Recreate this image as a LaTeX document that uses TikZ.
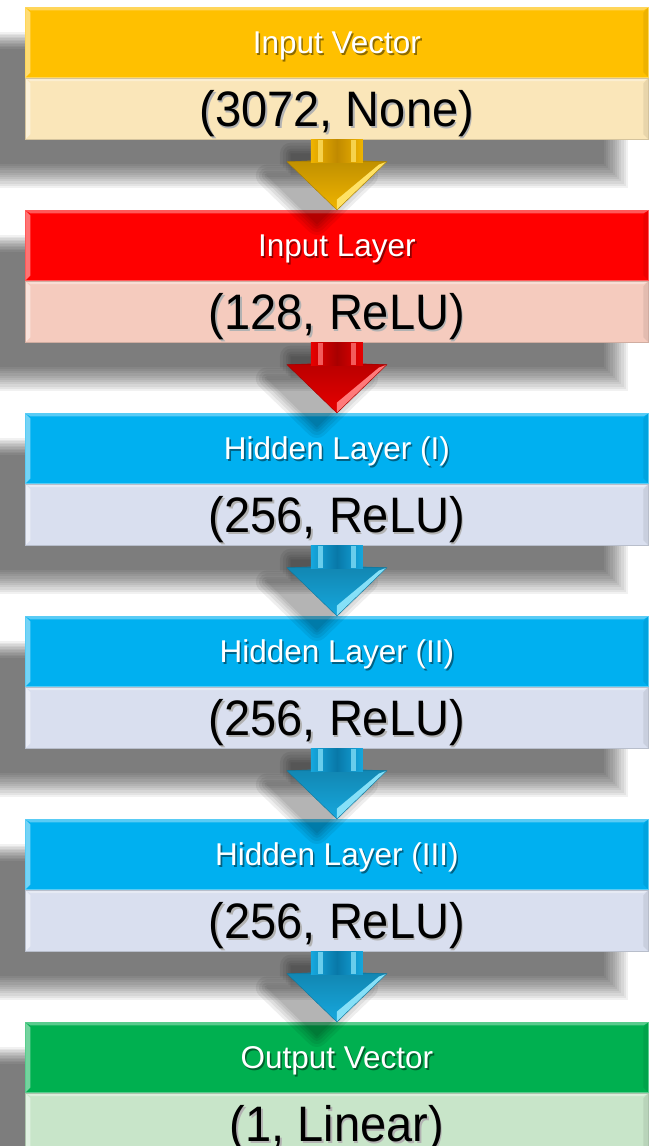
\documentclass[tikz,border=0pt]{standalone}
\usepackage{fontspec}
\usepackage{graphicx}
\setmainfont{Liberation Sans}
\usetikzlibrary{calc}
\definecolor{hOr}{HTML}{FFC000}\definecolor{bOr}{HTML}{FAE6B9}
\definecolor{hRd}{HTML}{FF0000}\definecolor{bRd}{HTML}{F5CBBE}
\definecolor{hBl}{HTML}{00B0F0}\definecolor{bBl}{HTML}{D9DFEF}
\definecolor{hGr}{HTML}{00B050}\definecolor{bGr}{HTML}{C8E5C9}
\definecolor{aOrB}{HTML}{F0B400}\definecolor{aOrL}{HTML}{FFE266}\definecolor{aOrD}{HTML}{C08A00}
\definecolor{aRdB}{HTML}{E80000}\definecolor{aRdL}{HTML}{FF7A7A}\definecolor{aRdD}{HTML}{A80000}
\definecolor{aBlB}{HTML}{16A8DE}\definecolor{aBlL}{HTML}{86E0F8}\definecolor{aBlD}{HTML}{0878A8}
\newcommand\hdrfont{\fontsize{31.5}{36}\selectfont}
\newcommand\bodfont{\fontsize{47}{52}\selectfont}
\newcommand\shtxt[2]{\makebox[0pt][l]{\hspace{1.6pt}\raisebox{-1.6pt}{\color{#1}#2}}#2}
\newcommand\tallbod[2]{\scalebox{1}[1.06]{\shtxt{#1}{#2}}}
\tikzset{
  bevel/.style={path picture={
    \fill[white,opacity=0.45] (path picture bounding box.north west) -- ++(5,5)
      -- ([shift={(5,-5)}]path picture bounding box.south west) -- (path picture bounding box.south west) -- cycle;
    \fill[black,opacity=0.07] (path picture bounding box.north east) -- ++(-5,5)
      -- ([shift={(-5,-5)}]path picture bounding box.south east) -- (path picture bounding box.south east) -- cycle;
    \fill[white,opacity=0.35] (path picture bounding box.north west) -- (path picture bounding box.north east)
      -- ++(-5,3) -- ([shift={(5,3)}]path picture bounding box.north west) -- cycle;
  }},
  hdr/.style={rectangle, minimum width=623pt, minimum height=70pt, inner sep=0pt,
    anchor=north west, text=white, font=\hdrfont, line width=0.8pt, bevel,
    text height=22.5pt, text depth=0pt},
  bod/.style={rectangle, minimum width=623pt, minimum height=61pt, inner sep=0pt,
    anchor=north west, text=black, font=\bodfont, line width=0.8pt, bevel,
    text height=35.7pt, text depth=0pt},
}
% #1 name, #2 top, #3 header colour, #4 body colour, #5 header text, #6 body text
\newcommand\lblock[6]{%
  \foreach \i in {0,...,11}
    \fill[black,opacity=0.056] (-40+2.2*\i, #2+25+1.5*\i) rectangle (628-2.2*\i, #2+181-2.2*\i);
  \node[hdr, fill=#3, draw=#3!65!white] (#1h) at (25,#2) {\shtxt{#3!55!black}{#5}};
  \node[bod, fill=#4, draw=#4!85!black] (#1b) at (#1h.south west) {\tallbod{black!30}{#6}};
}
% arrow shadow: #1 from body node, #2 to header node
\newcommand\ashadow[2]{%
  \coordinate (#1s) at ($(#1.south)+(-20,14)$);
  \coordinate (#1t) at ($(#2.north)+(-20,14)$);
  \foreach \w in {22,16,10,5,0.5}{
    \begin{scope}[transparency group, opacity=0.065]
      \filldraw[black, line width=\w pt, line join=round]
        ($(#1s)+(-26,0)$) -- ($(#1s)+(-26,22)$) -- ($(#1s)+(-50,22)$) -- (#1t)
        -- ($(#1s)+(50,22)$) -- ($(#1s)+(26,22)$) -- ($(#1s)+(26,0)$) -- cycle;
    \end{scope}}
}
% block arrow: #1 from, #2 to, #3 base, #4 light, #5 dark
\newcommand\barrow[5]{%
  \shade[top color=#3!80!black, bottom color=#3]
    ($(#1.south)+(-26,21)$) -- ($(#1.south)+(-50,22)$) -- (#2.north)
    -- ($(#1.south)+(50,22)$) -- ($(#1.south)+(26,21)$) -- cycle;
  \shade[left color=#3, right color=#3, middle color=#5]
    ($(#1.south)+(-26,0)$) rectangle ($(#1.south)+(26,22.5)$);
  \fill[#4,opacity=0.75] ($(#1.south)+(-19,0)$) rectangle ($(#1.south)+(-14,22)$);
  \fill[#4,opacity=0.75] ($(#1.south)+(14,0)$) rectangle ($(#1.south)+(19,22)$);
  \fill[#4] ($(#1.south)+(50,22)$) -- (#2.north) -- ($(#1.south)+(0,60)$) -- ($(#1.south)+(42,25)$) -- cycle;
  \draw[#3!70!black, line width=0.4pt, line join=round]
    ($(#1.south)+(-26,22)$) -- ($(#1.south)+(-50,22)$) -- (#2.north) -- ($(#1.south)+(50,22)$) -- ($(#1.south)+(26,22)$);
}
\begin{document}
\begin{tikzpicture}[x=1pt, y=-1pt]
  \useasboundingbox (0,0) rectangle (654,1146);
  \clip (0,0) rectangle (654,1146);
  \fill[white] (0,0) rectangle (654,1146);
  \lblock{iv}{7}{hOr}{bOr}{Input Vector}{(3072, None)}
  \lblock{il}{210}{hRd}{bRd}{Input Layer}{(128, ReLU)}
  \lblock{ha}{413}{hBl}{bBl}{Hidden Layer (I)}{(256, ReLU)}
  \lblock{hb}{616}{hBl}{bBl}{Hidden Layer (II)}{(256, ReLU)}
  \lblock{hc}{819}{hBl}{bBl}{Hidden Layer (III)}{(256, ReLU)}
  \lblock{ov}{1022}{hGr}{bGr}{Output Vector}{(1, Linear)}
  \ashadow{ivb}{ilh}
  \ashadow{ilb}{hah}
  \ashadow{hab}{hbh}
  \ashadow{hbb}{hch}
  \ashadow{hcb}{ovh}
  \barrow{ivb}{ilh}{aOrB}{aOrL}{aOrD}
  \barrow{ilb}{hah}{aRdB}{aRdL}{aRdD}
  \barrow{hab}{hbh}{aBlB}{aBlL}{aBlD}
  \barrow{hbb}{hch}{aBlB}{aBlL}{aBlD}
  \barrow{hcb}{ovh}{aBlB}{aBlL}{aBlD}
\end{tikzpicture}
\end{document}
